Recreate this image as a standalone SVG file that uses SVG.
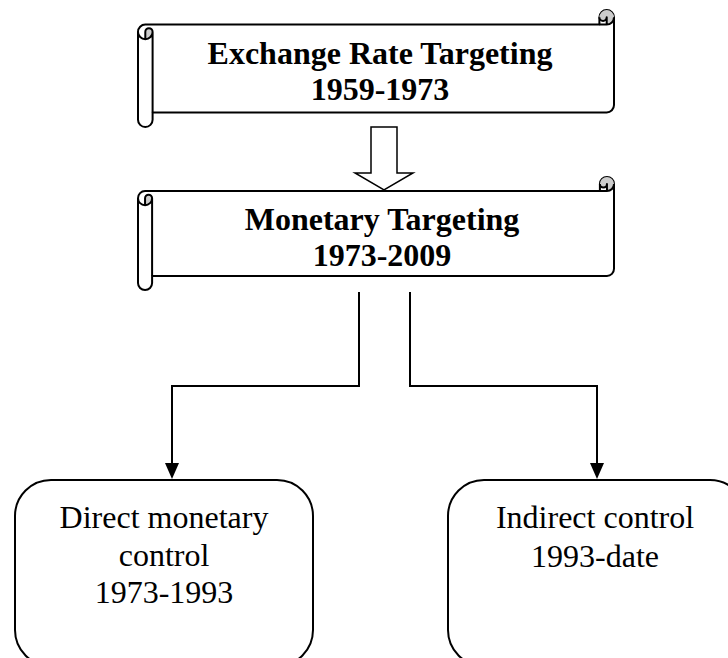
<svg xmlns="http://www.w3.org/2000/svg" width="728" height="658" viewBox="0 0 728 658">
<style>
.outline{fill:#fff;stroke:#000;stroke-width:2;stroke-linejoin:round}
.dark{fill:#cccccc;stroke:none}
.det{fill:none;stroke:#000;stroke-width:2;stroke-linejoin:round}
.title{font-family:"Liberation Serif","Times New Roman",serif;font-weight:bold;font-size:32px;text-anchor:middle;fill:#000}
.lbl{font-family:"Liberation Serif","Times New Roman",serif;font-size:32px;text-anchor:middle;fill:#000}
.box{fill:#fff;stroke:#000;stroke-width:2}
.conn{fill:none;stroke:#000;stroke-width:2}
.block{fill:#fff;stroke:#000;stroke-width:1.5;stroke-linejoin:miter}
</style>
<defs>
<marker id="ah" viewBox="0 0 16 14" refX="7" refY="7" markerWidth="16" markerHeight="14" markerUnits="userSpaceOnUse" orient="auto">
<path d="M0,0 L16,7 L0,14 Z" fill="#000"/>
</marker>
</defs>
<g id="scroll1" transform="translate(138,10)">
<path class="outline" d="M0,21.9 A7.3,7.3 0 0 1 7.3,14.6 L461.4,14.6 L461.4,7.3 A7.3,7.3 0 0 1 476,7.3 L476,95.1 A7.3,7.3 0 0 1 468.7,102.4 L14.6,102.4 L14.6,109.7 A7.3,7.3 0 0 1 0,109.7 Z"/>
<path class="dark" d="M7.3,29.2 A7.3,7.3 0 0 0 14.6,21.9 A3.65,3.65 0 0 0 7.3,21.9 Z M468.7,14.6 A7.3,7.3 0 1 0 461.4,7.3 A3.65,3.65 0 0 0 468.7,7.3 Z"/>
<path class="det" d="M461.4,14.6 L468.7,14.6 A7.3,7.3 0 0 0 476,7.3 M468.7,14.6 L468.7,7.3 A3.65,3.65 0 0 1 461.4,7.3 M7.3,29.2 L7.3,21.9 A3.65,3.65 0 0 1 14.6,21.9 A7.3,7.3 0 0 1 0,21.9 M14.6,21.9 L14.6,102.4"/>
<text class="title" x="242" y="54">Exchange Rate Targeting</text>
<text class="title" x="242" y="90">1959-1973</text>
</g>
<g id="arrow-block">
<path class="block" d="M371,127 H397 V173 H413 L384,190 L355,173 H371 Z"/>
</g>
<g id="scroll2" transform="translate(138,177)">
<path class="outline" d="M0,21.15 A7.05,7.05 0 0 1 7.05,14.1 L461.9,14.1 L461.9,7.05 A7.05,7.05 0 0 1 476,7.05 L476,91.85 A7.05,7.05 0 0 1 468.95,98.9 L14.1,98.9 L14.1,105.95 A7.05,7.05 0 0 1 0,105.95 Z"/>
<path class="dark" d="M7.05,28.2 A7.05,7.05 0 0 0 14.1,21.15 A3.525,3.525 0 0 0 7.05,21.15 Z M468.95,14.1 A7.05,7.05 0 1 0 461.9,7.05 A3.525,3.525 0 0 0 468.95,7.05 Z"/>
<path class="det" d="M461.9,14.1 L468.95,14.1 A7.05,7.05 0 0 0 476,7.05 M468.95,14.1 L468.95,7.05 A3.525,3.525 0 0 1 461.9,7.05 M7.05,28.2 L7.05,21.15 A3.525,3.525 0 0 1 14.1,21.15 A7.05,7.05 0 0 1 0,21.15 M14.1,21.15 L14.1,98.9"/>
<text class="title" x="244" y="53">Monetary Targeting</text>
<text class="title" x="244" y="89">1973-2009</text>
</g>
<g id="connectors">
<path class="conn" d="M359,292 V386 H172 V470" marker-end="url(#ah)"/>
<path class="conn" d="M410,292 V386 H597 V470" marker-end="url(#ah)"/>
</g>
<g id="direct">
<rect class="box" x="15" y="480" width="298" height="186" rx="36" ry="36"/>
<text class="lbl" x="164" y="528">Direct monetary</text>
<text class="lbl" x="164" y="566">control</text>
<text class="lbl" x="164" y="603">1973-1993</text>
</g>
<g id="indirect">
<rect class="box" x="448" y="480" width="298" height="186" rx="36" ry="36"/>
<text class="lbl" x="595" y="528">Indirect control</text>
<text class="lbl" x="595" y="567">1993-date</text>
</g>
</svg>
